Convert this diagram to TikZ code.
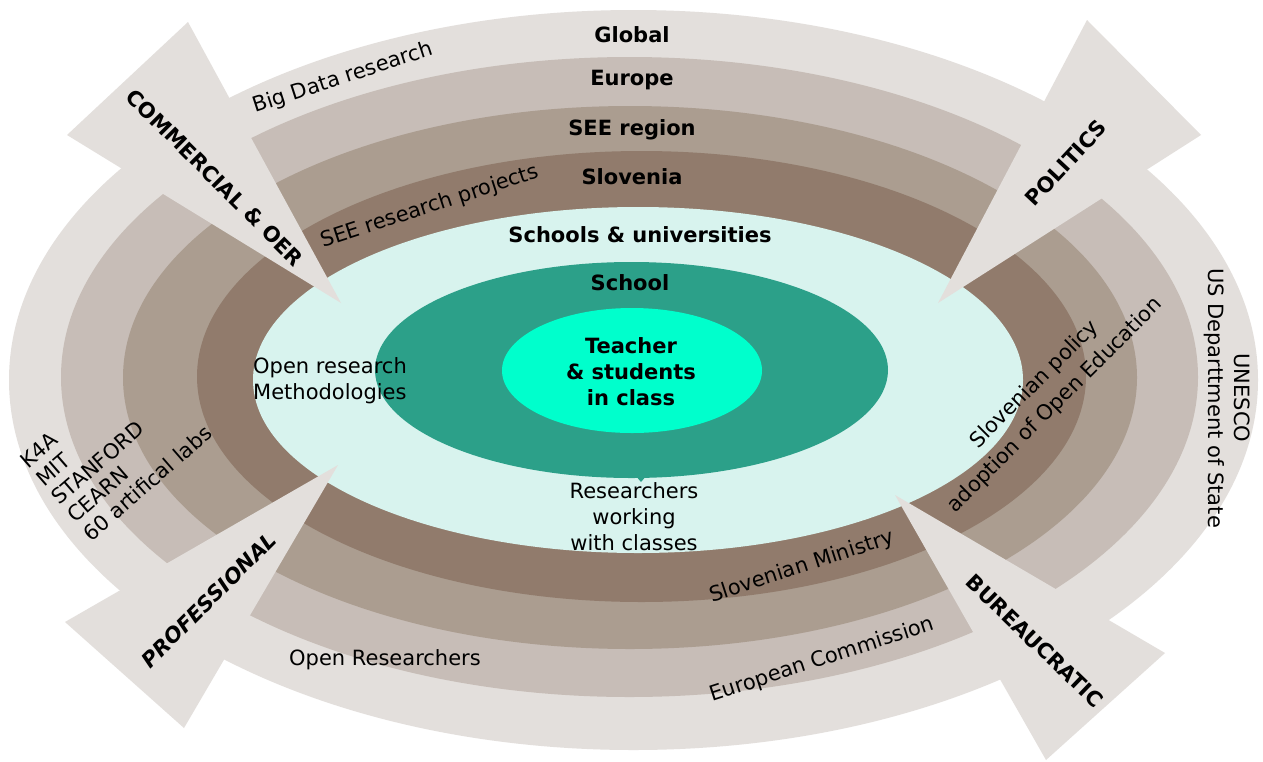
\documentclass[tikz,border=0pt]{standalone}
\usepackage{fontspec}
\setmainfont{DejaVu Sans}
\definecolor{cglobal}{HTML}{E3DFDC}
\definecolor{ceurope}{HTML}{C7BDB7}
\definecolor{csee}{HTML}{AB9D90}
\definecolor{cslo}{HTML}{917B6C}
\definecolor{cmint}{HTML}{D8F3EE}
\definecolor{cteal}{HTML}{2CA089}
\definecolor{ccore}{HTML}{00FFCC}
\tikzset{
  lbl/.style={font=\fontsize{21}{26}\selectfont, align=center, inner sep=0pt, text=black},
  bl/.style={lbl, font=\fontsize{21}{26}\selectfont\bfseries},
  blit/.style={lbl, font=\fontsize{21}{26}\selectfont\bfseries\itshape},
  wedge/.style={fill=cglobal}
}
\begin{document}
\begin{tikzpicture}[x=1pt,y=-1pt]
\useasboundingbox (0,0) rectangle (1263,761);
\fill[white] (0,0) rectangle (1263,761);
% rings
\fill[cglobal] (633.5,380) ellipse [x radius=624.5pt, y radius=370pt];
\fill[ceurope] (629.5,377) ellipse [x radius=568.5pt, y radius=320pt];
\fill[csee] (630,377.5) ellipse [x radius=507pt, y radius=271.5pt];
\fill[cslo] (641.5,376.5) ellipse [x radius=444.5pt, y radius=225.5pt];
\fill[cmint] (638,380) ellipse [x radius=385pt, y radius=173pt];
\fill[cteal] (631.5,370) ellipse [x radius=256.5pt, y radius=108pt];
\fill[cteal] (635,475) -- (647,475) -- (641,482) -- cycle;
\fill[ccore] (632,370.5) ellipse [x radius=130pt, y radius=62.5pt];
% wedges (arrows)
\fill[wedge] (67,135) -- (188,22) -- (341,303) -- cycle;
\fill[wedge] (1087,20) -- (1201,135) -- (938,303) -- cycle;
\fill[wedge] (65,622) -- (184,728) -- (338,465) -- cycle;
\fill[wedge] (1165,653) -- (1046,760) -- (895,495) -- cycle;
% ring titles
\node[bl] (global) at (632,35) {Global};
\node[bl] (europe) at (632,80) {Europe};
\node[bl] (seereg) at (632,130) {SEE region};
\node[bl] (slovenia) at (632,177) {Slovenia};
\node[bl] (schools) at (640,235) {Schools \& universities};
\node[bl] (school) at (630,283) {School};
\node[bl] (teacher) at (631,372) {Teacher\\\& students\\in class};
% arrow labels
\node[bl, rotate=-45] (commercial) at (215,178) {COMMERCIAL \& OER};
\node[bl, rotate=47] (politics) at (1066,163) {POLITICS};
\node[blit, rotate=45] (professional) at (209,600) {PROFESSIONAL};
\node[bl, rotate=-44] (bureau) at (1035,641) {BUREAUCRATIC};
% other labels
\node[lbl, rotate=18] (bigdata) at (343,78) {Big Data research};
\node[lbl, rotate=18] (seeproj) at (430,207) {SEE research projects};
\node[lbl, align=left, anchor=west] (openres) at (253,381) {Open research\\Methodologies};
\node[lbl] (researchers) at (634,517) {Researchers\\working\\with classes};
\node[lbl, rotate=45] (slopolicy) at (1045,395) {Slovenian policy\\[3pt]adoption of Open Education};
\node[lbl, rotate=-90] (unesco) at (1227,398) {UNESCO\\US Departtment of State};
\node[lbl, align=left, rotate=41] (k4a) at (116,447) {K4A\\[-2pt]MIT\\[-2pt]STANFORD\\[-2pt]CEARN\\[-2pt]60 artifical labs};
\node[lbl, rotate=18] (slomin) at (802,567) {Slovenian Ministry};
\node[lbl, rotate=18] (eurocom) at (822,660) {European Commission};
\node[lbl] (openresearchers) at (385,660) {Open Researchers};
\end{tikzpicture}
\end{document}
